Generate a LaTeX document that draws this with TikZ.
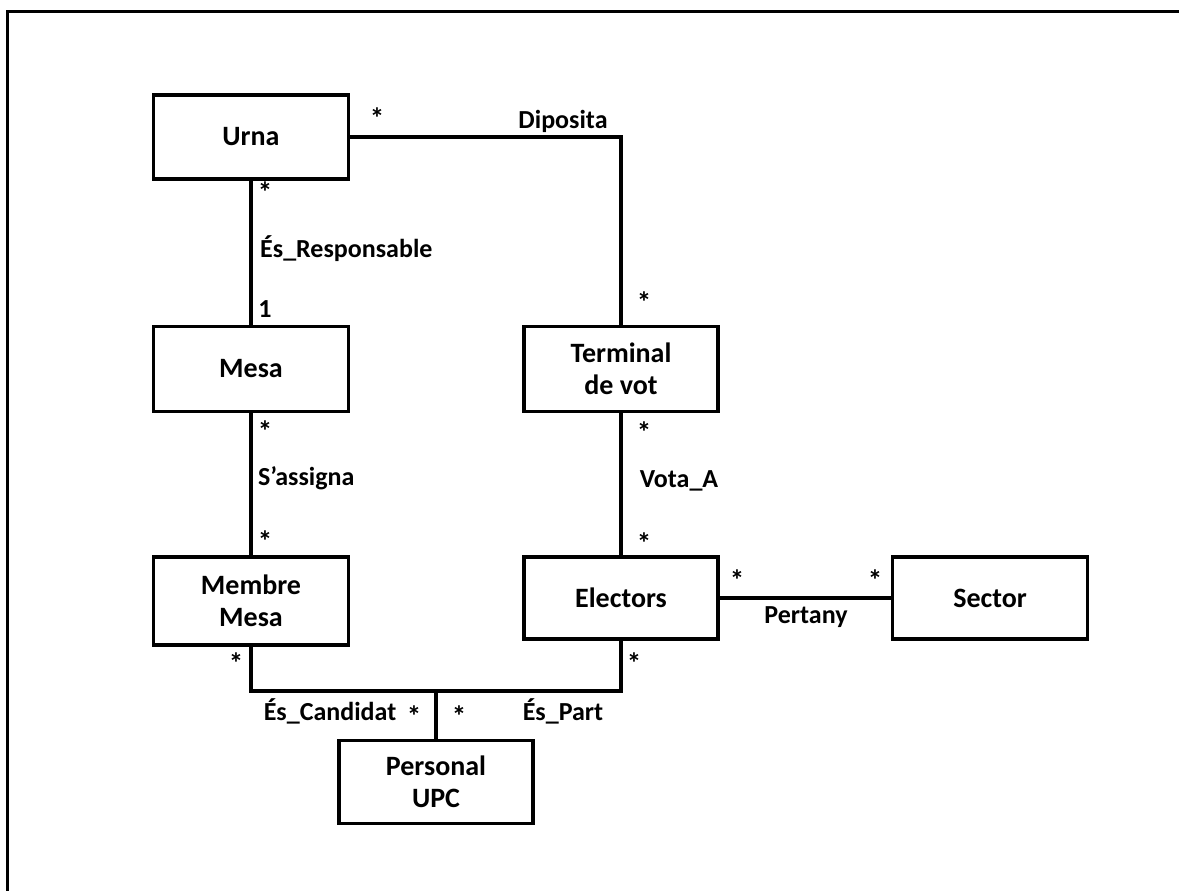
\documentclass[tikz,border=0pt]{standalone}
\usepackage{fontspec}
\setmainfont{Carlito}
\begin{document}
\begin{tikzpicture}[x=1pt,y=-1pt,
  entity/.style={draw, rectangle, line width=3.2pt, minimum width=195pt, align=center,
    font=\fontsize{28}{32}\selectfont\bfseries, inner sep=0pt},
  lbl/.style={font=\fontsize{26}{30}\selectfont\bfseries, inner sep=0pt},
  mult/.style={font=\fontsize{29}{30}\selectfont\bfseries, inner sep=0pt},
  conn/.style={line width=3.2pt}]
\useasboundingbox (0,0) rectangle (1179,891);
% outer frame
\draw[line width=3pt] (7,891) -- (7,12) -- (1179,12);

% entities
\node[entity, minimum height=84pt] (urna) at (251,137) {Urna};
\node[entity, minimum height=85pt] (mesa) at (251,369) {Mesa};
\node[entity, minimum height=85pt, minimum width=194pt] (term) at (621,369) {Terminal\\de vot};
\node[entity, minimum height=88pt] (membre) at (251,601) {Membre\\Mesa};
\node[entity, minimum height=82pt, minimum width=194pt] (elect) at (621,598) {Electors};
\node[entity, minimum height=82pt] (sector) at (990,598) {Sector};
\node[entity, minimum height=83pt, minimum width=194pt] (pers) at (436,782) {Personal\\UPC};

% junction points
\coordinate (dtop) at (621,137);
\coordinate (jl) at (251,691);
\coordinate (jr) at (621,691);
\coordinate (jm) at (436,691);

% connectors
\draw[conn] (urna.east) -- (dtop) -- (term.north);
\draw[conn] (urna.south) -- (mesa.north);
\draw[conn] (mesa.south) -- (membre.north);
\draw[conn] (term.south) -- (elect.north);
\draw[conn] (elect.east) -- (sector.west);
\draw[conn] (membre.south) -- (jl) -- (jr) -- (elect.south);
\draw[conn] (jm) -- (pers.north);

% multiplicities and association names
\node[mult] (m1) at (377,118) {*};
\node[lbl] (a1) at (563,121) {Diposita};
\node[mult] (m2) at (265,192) {*};
\node[lbl, anchor=west] (a2) at (260,249) {És\_Responsable};
\node[lbl] (m3) at (265,309) {1};
\node[mult] (m4) at (644,302) {*};
\node[mult] (m5) at (265,431) {*};
\node[lbl, anchor=west] (a3) at (258,478) {S’assigna};
\node[mult] (m6) at (265,541) {*};
\node[mult] (m7) at (644,432) {*};
\node[lbl] (a4) at (679,481) {Vota\_A};
\node[mult] (m8) at (644,543) {*};
\node[mult] (m9) at (737,580) {*};
\node[mult] (m10) at (875,580) {*};
\node[lbl] (a5) at (806,617) {Pertany};
\node[mult] (m11) at (236,663) {*};
\node[mult] (m12) at (634,663) {*};
\node[lbl] (a6) at (330,711) {És\_Candidat};
\node[mult] (m13) at (414,716) {*};
\node[mult] (m14) at (459,716) {*};
\node[lbl] (a7) at (563,711) {És\_Part};
\end{tikzpicture}
\end{document}
